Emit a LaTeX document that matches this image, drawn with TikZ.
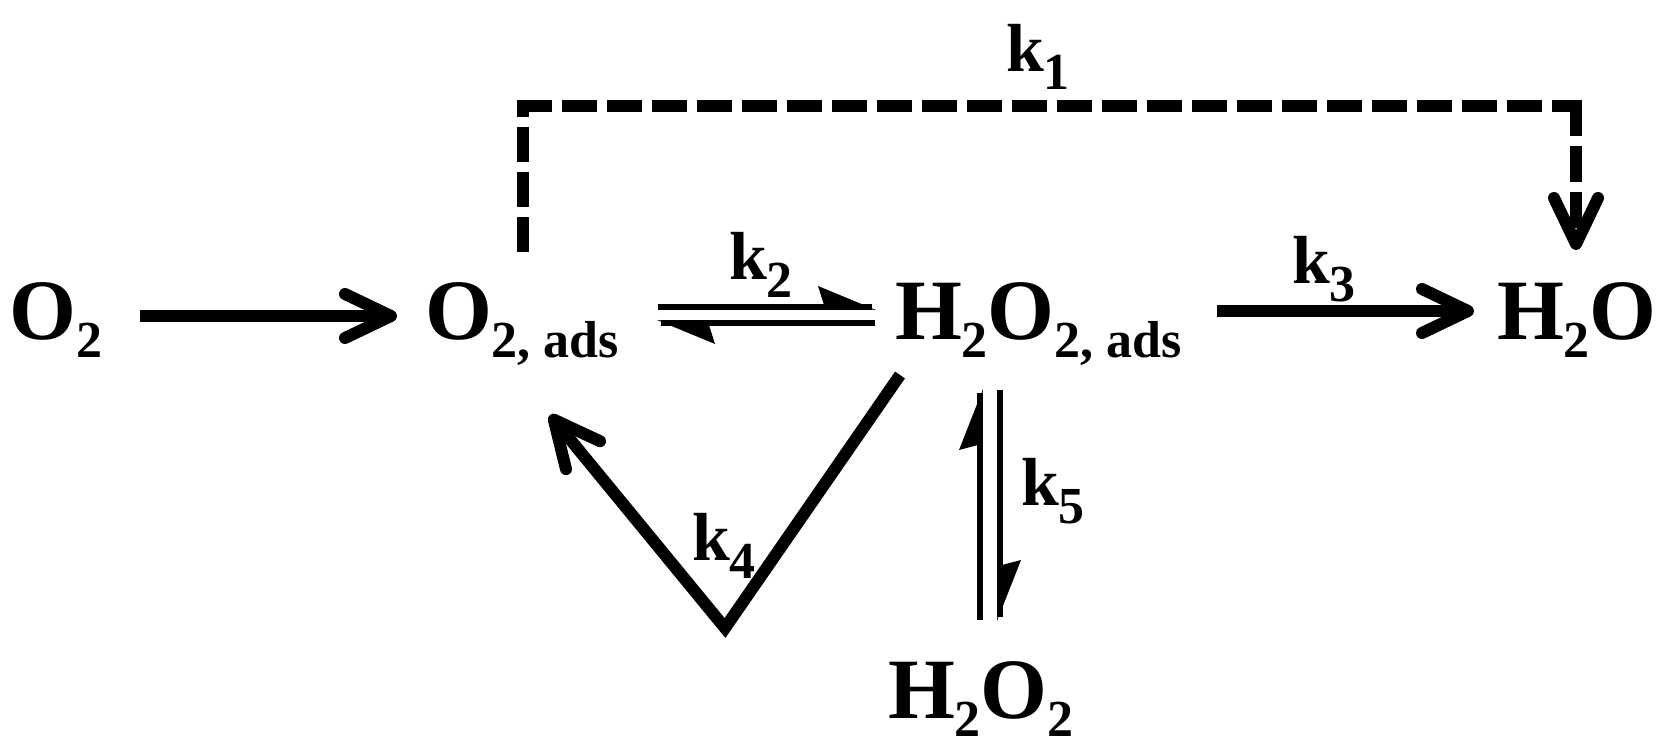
\documentclass[tikz,border=0pt]{standalone}
\usepackage{fontspec}
\setmainfont{Liberation Serif}
\usetikzlibrary{arrows.meta}
\newcommand\sbs[1]{\raisebox{-9pt}{\fontsize{26}{26}\selectfont #1}}
\begin{document}
\begin{tikzpicture}[x=0.5pt,y=-0.5pt,
  species/.style={anchor=base west,inner sep=0pt,outer sep=0pt,font=\fontsize{43}{43}\selectfont\bfseries},
  rate/.style={anchor=base west,inner sep=0pt,outer sep=0pt,font=\fontsize{34}{34}\selectfont\bfseries},
  bigarrow/.style={line width=6pt,-{Straight Barb[length=23pt,width=22pt,line cap=round,line join=round]}},
  thinline/.style={line width=3pt},
  harpoonfill/.style={fill=black,draw=none},
  dashseg/.style={line width=6pt,dash pattern=on 17.5pt off 5pt}
]
\useasboundingbox (0,0) rectangle (1664,753);
% species
\node[species] (o2) at (10,340) {O\sbs{2}};
\node[species] (o2ads) at (425,340) {O\sbs{2, ads}};
\node[species] (h2o2ads) at (895,340) {H\sbs{2}O\sbs{2, ads}};
\node[species] (h2o) at (1497,340) {H\sbs{2}O};
\node[species] (h2o2) at (888,718) {H\sbs{2}O\sbs{2}};
% rate constants
\node[rate] (k1) at (1006,72) {k\sbs{1}};
\node[rate] (k2) at (729,280) {k\sbs{2}};
\node[rate] (k3) at (1292,284) {k\sbs{3}};
\node[rate] (k4) at (692,560) {k\sbs{4}};
\node[rate] (k5) at (1021,505) {k\sbs{5}};
% connector end points
\coordinate (a1s) at (140,316);
\coordinate (a1e) at (397,316);
\coordinate (a3s) at (1217,311);
\coordinate (a3e) at (1474,311);
\coordinate (d0) at (523,252);
\coordinate (d1) at (523,100);
\coordinate (d1b) at (517,106);
\coordinate (d2) at (1582,106);
\coordinate (d2b) at (1576,100);
\coordinate (d3) at (1576,250);
\coordinate (v0) at (900,375);
\coordinate (v1) at (725,628);
\coordinate (v2) at (550,415);
% O2 -> O2,ads
\draw[bigarrow] (a1s) -- (a1e);
% H2O2,ads -> H2O
\draw[bigarrow] (a3s) -- (a3e);
% k1 dashed route O2,ads -> H2O
\draw[dashseg] (d0) -- (d1);
\draw[dashseg] (d1b) -- (d2);
\draw[line width=6pt,dash pattern=on 18pt off 5pt,-{Straight Barb[length=23pt,width=22pt,line cap=round,line join=round]}] (d2b) -- (d3);
% k4
\draw[bigarrow,line join=miter] (v0) -- (v1) -- (v2);
% k2 equilibrium
\draw[thinline] (658,307) -- (872,307);
\fill[harpoonfill] (876,310) -- (818,286) -- (824,305) -- cycle;
\draw[thinline] (661,323) -- (875,323);
\fill[harpoonfill] (657,320) -- (715,344) -- (709,325) -- cycle;
% k5 equilibrium
\draw[thinline] (980,620) -- (980,393);
\fill[harpoonfill] (983,389) -- (959,450) -- (978,445) -- cycle;
\draw[thinline] (1000,390) -- (1000,617);
\fill[harpoonfill] (997,621) -- (1021,560) -- (1002,565) -- cycle;
\end{tikzpicture}
\end{document}
